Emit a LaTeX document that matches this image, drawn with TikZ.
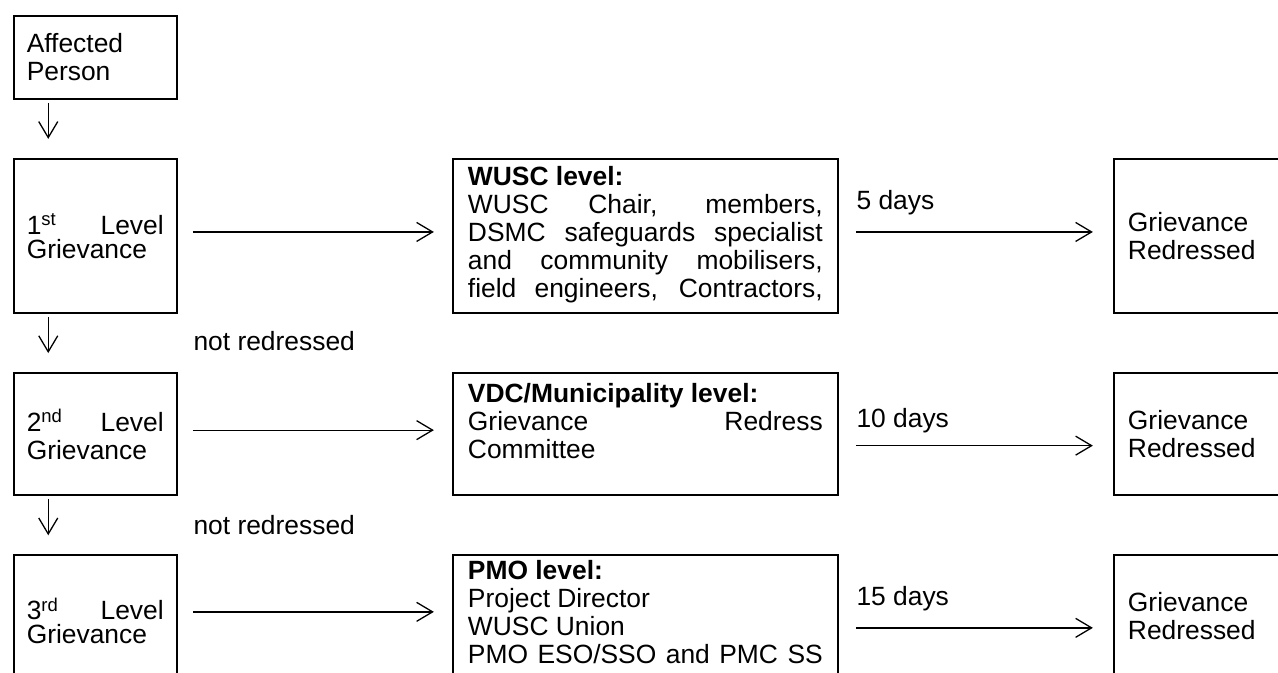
\documentclass[tikz,border=0pt]{standalone}
\usepackage{fontspec}
\setmainfont{Liberation Sans}
\usepackage{tikz}
\usetikzlibrary{matrix,arrows.meta}

\begin{document}
\begin{tikzpicture}[font=\fontsize{13.2}{14}\selectfont, >={Straight Barb[length=8pt,width=9.5pt]}, line width=0.65pt]
	\useasboundingbox (0,0) rectangle (639pt,-336.5pt);
	\clip (0,0) rectangle (639pt,-336.5pt);
	\matrix(m)[matrix of nodes, anchor=north west, inner sep=0pt, column sep=137pt, row sep=29pt,
		nodes={draw, line width=1.1pt, anchor=center, inner xsep=6.5pt, inner ysep=2pt, align=left},
		column 1/.style={nodes={text width=68.5pt}},
		column 2/.style={nodes={text width=177.4pt, inner xsep=7.5pt, align=justify}},
		column 3/.style={nodes={text width=90pt, inner xsep=7pt}},
		row 1/.style={nodes={minimum height=41.5pt}},
		row 2/.style={nodes={minimum height=77pt}},
		row 3/.style={nodes={minimum height=61pt}},
		row 4/.style={nodes={minimum height=65.5pt}},
		row 2 column 1/.style={nodes={font=\fontsize{13.2}{12}\selectfont}},
		row 4 column 1/.style={nodes={font=\fontsize{13.2}{12}\selectfont}},
		row 2 column 2/.style={nodes={text height=11.5pt, text depth=61.5pt}},
		row 3 column 2/.style={nodes={text height=12.5pt, text depth=44.5pt}},
		row 4 column 2/.style={nodes={text height=10pt, text depth=51.5pt}},
		row 4 column 3/.style={nodes={text height=26pt, text depth=35.5pt}}] at (6pt,-7pt) {
		Affected\newline Person & & \\
		1\textsuperscript{st}\hfill Level\newline Grievance & \textbf{WUSC level:}\newline WUSC Chair, members,\linebreak DSMC safeguards specialist\linebreak and community mobilisers,\linebreak \makebox[\linewidth][s]{field engineers, Contractors,} &[1pt] Grievance\newline Redressed \\
		2\textsuperscript{nd}\hfill Level\newline Grievance & \textbf{VDC/Municipality level:}\newline Grievance Redress\linebreak Committee & Grievance\newline Redressed \\
		3\textsuperscript{rd}\hfill Level\newline Grievance & \textbf{PMO level:}\newline Project Director\newline WUSC Union\newline \makebox[\linewidth][s]{PMO ESO/SSO and PMC SS} & Grievance\newline Redressed \\
	};
	% escalation downwards
	\draw[->, shorten <=1.5pt, shorten >=9.5pt] ([xshift=-23.5pt]m-1-1.south) -- ([xshift=-23.5pt]m-2-1.north);
	\draw[->, shorten <=1.5pt, shorten >=9.5pt] ([xshift=-23.5pt]m-2-1.south) -- ([xshift=-23.5pt]m-3-1.north);
	\draw[->, shorten <=1.5pt, shorten >=9.5pt] ([xshift=-23.5pt]m-3-1.south) -- ([xshift=-23.5pt]m-4-1.north);
	\node[anchor=base west, inner sep=0pt] (nr1) at ([xshift=7.5pt,yshift=-18pt]m-2-1.south east) {not redressed};
	\node[anchor=base west, inner sep=0pt] (nr2) at ([xshift=7.5pt,yshift=-19pt]m-3-1.south east) {not redressed};
	% to the committees
	\draw[->, shorten <=7.5pt, shorten >=9pt] ([yshift=2pt]m-2-1.east) -- ([yshift=2pt]m-2-2.west);
	\draw[->, shorten <=7.5pt, shorten >=9pt] ([yshift=2pt]m-3-1.east) -- ([yshift=2pt]m-3-2.west);
	\draw[->, shorten <=7.5pt, shorten >=9pt] ([yshift=4.5pt]m-4-1.east) -- ([yshift=4.5pt]m-4-2.west);
	% redressed within
	\draw[->, shorten <=8.5pt, shorten >=10pt] ([yshift=2pt]m-2-2.east) -- node[pos=0, anchor=base west, inner sep=0pt, xshift=8.5pt, yshift=11pt] (d1) {5 days} ([yshift=2pt]m-2-3.west);
	\draw[->, shorten <=8.5pt, shorten >=10pt] ([yshift=-5.75pt]m-3-2.east) -- node[pos=0, anchor=base west, inner sep=0pt, xshift=8.5pt, yshift=9pt] (d2) {10 days} ([yshift=-5.75pt]m-3-3.west);
	\draw[->, shorten <=8.5pt, shorten >=10pt] ([yshift=-3.5pt]m-4-2.east) -- node[pos=0, anchor=base west, inner sep=0pt, xshift=8.5pt, yshift=11pt] (d3) {15 days} ([yshift=-3.5pt]m-4-3.west);
\end{tikzpicture}
\end{document}
